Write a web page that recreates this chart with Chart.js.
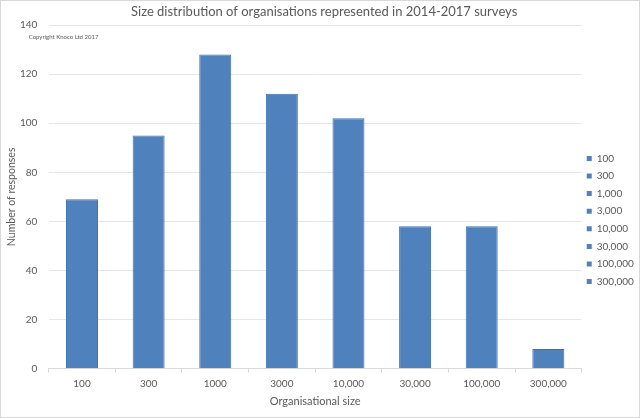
<!DOCTYPE html>
<html>
<head>
<meta charset="utf-8">
<script src="https://cdn.jsdelivr.net/npm/chart.js@4"></script>
<style>
html,body{margin:0;padding:0;background:#fff;}
#wrap{width:640px;height:418px;}
</style>
</head>
<body>
<div id="wrap"><canvas id="c" width="640" height="418"></canvas></div>
<script>
const categories = ['100', '300', '1000', '3000', '10,000', '30,000', '100,000', '300,000'];
const legendLabels = ['100', '300', '1,000', '3,000', '10,000', '30,000', '100,000', '300,000'];
const responses = [69, 95, 128, 112, 102, 58, 58, 8];
const yTicks = [0, 20, 40, 60, 80, 100, 120, 140];

const chartTitle = 'Size distribution of organisations represented in 2014-2017 surveys';
const copyrightText = 'Copyright Knoco Ltd 2017';
const xTitle = 'Organisational size';
const yTitle = 'Number of responses';

const FONT = 'Lato, "Open Sans", "DejaVu Sans", sans-serif';
const TXT = '#595959';
const BAR = '#4f81bd';

const framePlugin = {
  id: 'frame',
  beforeDraw(chart) {
    const ctx = chart.ctx;
    ctx.save();
    ctx.fillStyle = '#ffffff';
    ctx.fillRect(0, 0, chart.width, chart.height);
    ctx.strokeStyle = '#d9d9d9';
    ctx.lineWidth = 1;
    ctx.strokeRect(0.5, 0.5, chart.width - 1, chart.height - 1);
    ctx.restore();
  },
  afterDraw(chart) {
    const ctx = chart.ctx;
    const a = chart.chartArea;
    ctx.save();
    ctx.fillStyle = TXT;
    ctx.font = '6px ' + FONT;
    ctx.textBaseline = 'middle';
    ctx.textAlign = 'left';
    ctx.fillText(copyrightText, a.left - 20, a.top + 12);
    ctx.restore();
  }
};

const legendShift = {
  id: 'legendShift',
  afterLayout(chart) {
    const l = chart.legend;
    if (l) { l.top += 11; l.bottom += 11; l.left -= 2.5; l.right -= 2.5; }
  }
};

new Chart(document.getElementById('c'), {
  type: 'bar',
  data: {
    labels: categories,
    datasets: [{
      label: 'Responses',
      data: responses,
      backgroundColor: BAR,
      borderColor: '#3d70b2',
      borderWidth: 1,
      barPercentage: 0.48,
      categoryPercentage: 1.0
    }]
  },
  options: {
    responsive: false,
    animation: false,
    devicePixelRatio: 1,
    layout: { padding: { left: 2, right: -6.3, top: 0, bottom: 0 } },
    plugins: {
      title: {
        display: true,
        text: chartTitle,
        color: TXT,
        font: { family: FONT, size: 13, weight: 'normal' },
        padding: { top: 4.5, bottom: 4.9 }
      },
      legend: {
        display: true,
        position: 'right',
        align: 'center',
        labels: {
          color: TXT,
          font: { family: FONT, size: 10 },
          boxWidth: 5,
          boxHeight: 5,
          padding: 7.6,
          generateLabels() {
            return legendLabels.map((t, i) => ({
              text: t,
              fillStyle: BAR,
              strokeStyle: BAR,
              lineWidth: 0,
              fontColor: TXT,
              datasetIndex: 0,
              index: i
            }));
          }
        }
      },
      tooltip: { enabled: false }
    },
    scales: {
      x: {
        afterFit(scale) { scale.height = 49.3; },
        grid: {
          display: true,
          drawOnChartArea: false,
          drawTicks: true,
          tickLength: 4,
          color: '#d9d9d9',
          offset: true
        },
        border: { display: true, color: '#d9d9d9' },
        ticks: {
          color: TXT,
          font: { family: FONT, size: 10 },
          padding: 5,
          maxRotation: 0,
          autoSkip: false
        },
        title: {
          display: true,
          text: xTitle,
          color: TXT,
          font: { family: FONT, size: 11 },
          padding: { top: 0, bottom: 10.4 }
        }
      },
      y: {
        min: 0,
        max: 140,
        afterBuildTicks(scale) { scale.ticks = yTicks.map(v => ({ value: v })); },
        afterFit(scale) { scale.width = 46.7; },
        grid: { color: '#e6e6e6', drawTicks: false },
        border: { display: false },
        ticks: {
          color: TXT,
          font: { family: FONT, size: 10 },
          padding: 11.4
        },
        title: {
          display: true,
          text: yTitle,
          color: TXT,
          font: { family: FONT, size: 10.5 },
          padding: { top: 3.2, bottom: 0 }
        }
      }
    }
  },
  plugins: [framePlugin, legendShift]
});
</script>
</body>
</html>
